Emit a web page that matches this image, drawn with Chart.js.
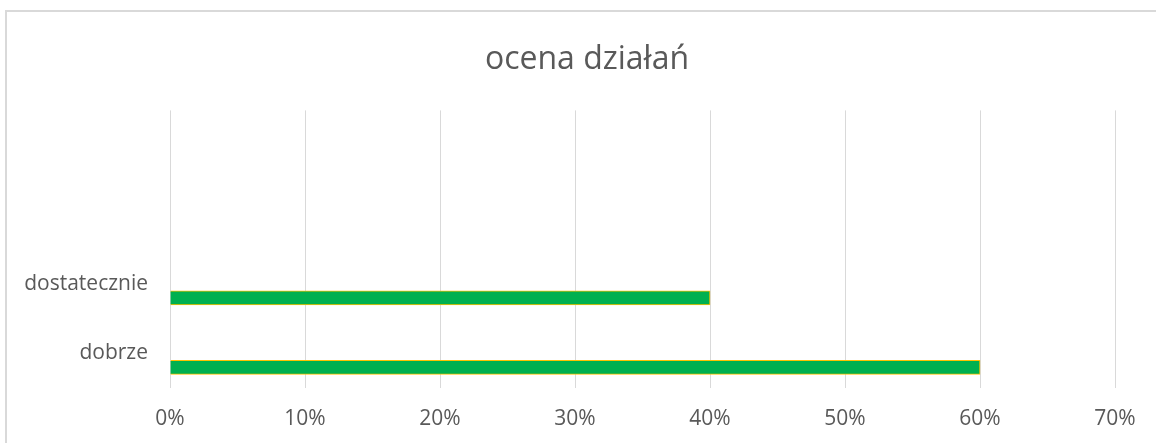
<!DOCTYPE html>
<html>
<head>
<meta charset="utf-8">
<script src="https://cdn.jsdelivr.net/npm/chart.js@4"></script>
<style>
  html, body { margin: 0; padding: 0; background: #fff; overflow: hidden; }
  #chart { display: block; }
</style>
</head>
<body>
<canvas id="chart" width="1156" height="443"></canvas>
<script>
// categories listed top to bottom, the two upper rows are empty in the source sheet
const categories = ['', '', 'dostatecznie', 'dobrze']
const ocena = [null, null, 0.4, 0.6]
const emptySeries = [null, null, null, null]
const xTicks = [0, 0.1, 0.2, 0.3, 0.4, 0.5, 0.6, 0.7]

const textColor = '#595959'
const gridColor = '#d9d9d9'

// title is centred on the whole frame, not on the plot
const titleShift = {
  id: 'titleShift',
  afterLayout: (chart) => {
    chart.titleBlock.left = 20
    chart.titleBlock.right = chart.width - 2
  },
}

// light frame on the top and left edge, like the cropped sheet
const frame = {
  id: 'frame',
  beforeDraw: (chart) => {
    const c = chart.ctx
    c.save()
    c.strokeStyle = gridColor
    c.lineWidth = 2
    c.beginPath()
    c.moveTo(6, chart.height)
    c.lineTo(6, 11)
    c.lineTo(chart.width, 11)
    c.stroke()
    c.restore()
  },
}

const ctx = document.getElementById('chart').getContext('2d')
new Chart(ctx, {
  type: 'bar',
  data: {
    labels: categories,
    datasets: [
      { label: 'seria 3', data: emptySeries },
      { label: 'seria 2', data: emptySeries },
      {
        label: 'ocena',
        data: ocena,
        backgroundColor: '#00b050',
        borderColor: '#ffc000',
        borderWidth: 1,
      },
    ],
  },
  options: {
    responsive: false,
    animation: false,
    indexAxis: 'y',
    barThickness: 14,
    layout: {
      padding: { left: 20, right: 41, top: 0, bottom: 0 },
    },
    plugins: {
      legend: { display: false },
      tooltip: { enabled: false },
      title: {
        display: true,
        text: 'ocena działań',
        color: textColor,
        font: { family: 'Open Sans', size: 32, weight: 'normal' },
        padding: { top: 41, bottom: 31 },
      },
    },
    scales: {
      x: {
        min: 0,
        max: 0.7,
        afterBuildTicks: (axis) => {
          axis.ticks = xTicks.map((v) => ({ value: v }))
        },
        afterFit: (axis) => {
          axis.height = 55
        },
        grid: { color: gridColor, drawTicks: false },
        border: { display: false },
        ticks: {
          color: textColor,
          padding: 18,
          font: { family: 'Open Sans', size: 21 },
          callback: (value) => `${Math.round(value * 100)}%`,
        },
      },
      y: {
        grid: { display: false, drawTicks: false },
        border: { display: false },
        afterFit: (axis) => {
          axis.width = 150
        },
        ticks: {
          color: textColor,
          padding: 22,
          font: { family: 'Open Sans', size: 21 },
        },
      },
    },
  },
  plugins: [titleShift, frame],
})
</script>
</body>
</html>
